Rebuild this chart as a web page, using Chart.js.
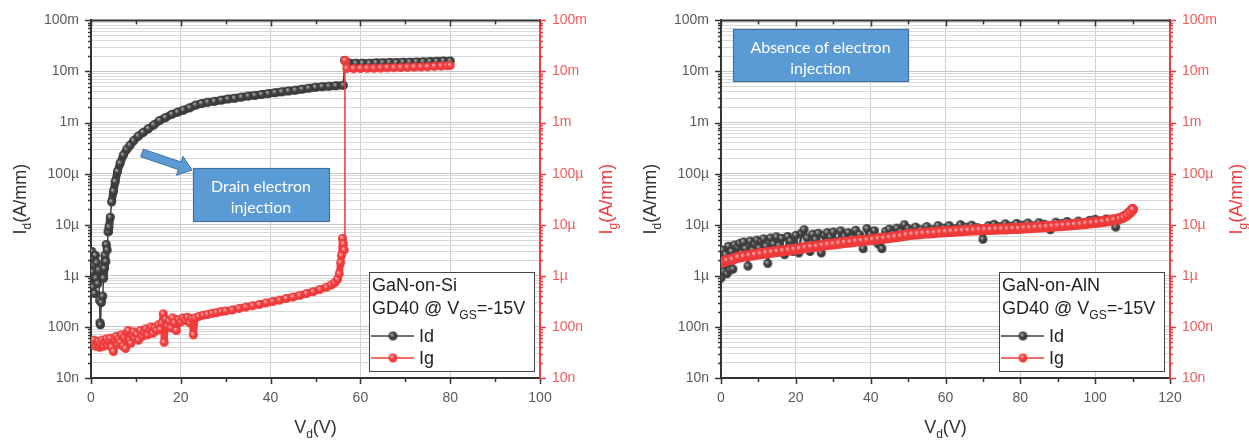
<!DOCTYPE html>
<html>
<head>
<meta charset="utf-8">
<script src="https://cdn.jsdelivr.net/npm/chart.js@4/dist/chart.umd.min.js"></script>
<style>
  body { margin: 0; background: #fff; width: 1249px; height: 440px; overflow: hidden; position: relative; }
  canvas { position: absolute; top: 0; }
  #c1 { left: 0; }
  #c2 { left: 625px; }
</style>
</head>
<body>
<canvas id="c1" width="625" height="440"></canvas>
<canvas id="c2" width="624" height="440"></canvas>
<script>
// log axis decades and their labels (A/mm)
const decades = [1e-8, 1e-7, 1e-6, 1e-5, 1e-4, 1e-3, 1e-2, 1e-1];
const decadeLabels = ['10n', '100n', '1µ', '10µ', '100µ', '1m', '10m', '100m'];

// GaN-on-Si : drain current
const siIdV = [0.2, 0.3, 0.4, 0.5, 0.7, 0.8, 1.0, 1.1, 1.3, 1.5, 1.7, 1.9, 2.0, 2.1, 2.3, 2.6, 2.8, 3.0, 3.1, 3.3,
  3.4, 3.6, 3.8, 4.0, 4.3, 4.6, 5.0, 5.4, 5.9, 6.5, 7.2, 8.0, 8.7, 9.5, 10.5, 11.6, 12.8, 14.0, 15.3, 16.6,
  18.0, 19.3, 20.6, 22.0, 23.3, 24.6, 26.0, 27.5, 29.0, 30.5, 32.0, 33.5, 35.0, 36.5, 38.0, 39.5, 41.0, 42.5, 44.0, 45.5,
  47.0, 48.5, 50.0, 51.5, 53.0, 54.5, 56.2, 56.5, 57.5, 59.0, 60.5, 62.0, 63.5, 65.0, 66.5, 68.0, 69.5, 71.0, 72.5, 74.0,
  75.5, 77.0, 78.5, 80.0];
const siId = [3.0e-6, 1.2e-6, 0.6e-6, 2.2e-6, 1.6e-6, 0.45e-6, 2.5e-6, 0.9e-6, 1.8e-6, 0.7e-6, 1.3e-6, 0.33e-6, 0.12e-6, 0.11e-6, 0.3e-6, 0.4e-6, 0.9e-6, 1.4e-6, 2.5e-6, 1.9e-6,
  4.1e-6, 3.2e-6, 7.3e-6, 9e-6, 14e-6, 28e-6, 45e-6, 70e-6, 110e-6, 160e-6, 230e-6, 300e-6, 360e-6, 440e-6, 540e-6, 640e-6, 760e-6, 900e-6, 1.1e-3, 1.25e-3,
  1.45e-3, 1.6e-3, 1.75e-3, 1.95e-3, 2.2e-3, 2.35e-3, 2.5e-3, 2.6e-3, 2.75e-3, 2.9e-3, 3.0e-3, 3.15e-3, 3.3e-3, 3.4e-3, 3.55e-3, 3.7e-3, 3.85e-3, 4.0e-3, 4.15e-3, 4.3e-3,
  4.5e-3, 4.7e-3, 4.9e-3, 5.05e-3, 5.15e-3, 5.25e-3, 5.35e-3, 16.5e-3, 14.5e-3, 14.5e-3, 14.5e-3, 14.5e-3, 14.8e-3, 14.8e-3, 15.0e-3, 15.0e-3, 15.2e-3, 15.2e-3, 15.4e-3, 15.5e-3,
  15.6e-3, 15.8e-3, 16.0e-3, 16.0e-3];

// GaN-on-Si : gate current
const siIgV = [0.1, 0.4, 0.7, 1.0, 1.3, 1.6, 1.9, 2.2, 2.5, 2.8, 3.1, 3.4, 3.7, 4.0, 4.3, 4.6, 5.0, 5.3, 5.6, 5.9,
  6.2, 6.5, 6.8, 7.1, 7.4, 7.7, 8.0, 8.3, 8.6, 8.9, 9.2, 9.5, 9.8, 10.2, 10.6, 11.0, 11.4, 11.8, 12.2, 12.6,
  13.0, 13.4, 13.8, 14.2, 14.6, 15.0, 15.4, 15.8, 16.1, 16.3, 16.6, 17.0, 17.4, 17.8, 18.2, 18.6, 19.0, 19.5, 20.0, 20.5,
  21.0, 21.5, 22.0, 22.5, 22.8, 23.2, 24.0, 25.0, 26.0, 27.0, 28.0, 29.0, 30.0, 31.5, 33.0, 34.5, 36.0, 37.5, 39.0, 40.5,
  42.0, 43.5, 45.0, 46.5, 48.0, 49.5, 51.0, 52.5, 53.5, 54.3, 54.9, 55.3, 55.6, 55.8, 56.0, 56.2, 56.4, 56.55, 57.0, 58.5,
  60.0, 61.5, 63.0, 64.5, 66.0, 67.5, 69.0, 70.5, 72.0, 73.5, 75.0, 76.5, 78.0, 79.3, 80.0];
const siIg = [50e-9, 45e-9, 55e-9, 42e-9, 48e-9, 52e-9, 40e-9, 46e-9, 55e-9, 42e-9, 50e-9, 58e-9, 44e-9, 52e-9, 60e-9, 40e-9, 33e-9, 55e-9, 65e-9, 45e-9,
  58e-9, 50e-9, 70e-9, 42e-9, 62e-9, 38e-9, 75e-9, 85e-9, 55e-9, 48e-9, 68e-9, 80e-9, 60e-9, 72e-9, 55e-9, 85e-9, 65e-9, 78e-9, 92e-9, 70e-9,
  88e-9, 100e-9, 75e-9, 95e-9, 85e-9, 110e-9, 90e-9, 120e-9, 180e-9, 50e-9, 140e-9, 105e-9, 130e-9, 95e-9, 150e-9, 120e-9, 85e-9, 140e-9, 125e-9, 150e-9,
  135e-9, 155e-9, 120e-9, 145e-9, 70e-9, 150e-9, 160e-9, 170e-9, 175e-9, 185e-9, 190e-9, 200e-9, 205e-9, 215e-9, 230e-9, 245e-9, 260e-9, 275e-9, 295e-9, 315e-9,
  335e-9, 360e-9, 385e-9, 415e-9, 450e-9, 490e-9, 540e-9, 600e-9, 660e-9, 730e-9, 850e-9, 1.1e-6, 1.8e-6, 2.5e-6, 5.4e-6, 4.2e-6, 3.2e-6, 16.5e-3, 11.5e-3, 11.4e-3,
  11.5e-3, 11.6e-3, 11.6e-3, 11.7e-3, 11.8e-3, 11.9e-3, 12.0e-3, 12.1e-3, 12.2e-3, 12.3e-3, 12.4e-3, 12.6e-3, 12.8e-3, 13.0e-3, 13.2e-3];

// GaN-on-AlN : drain current (µA/mm)
const alnIdV = [0, 0.4, 0.8, 1.2, 1.6, 2.0, 2.4, 2.8, 3.2, 3.6, 4.0, 4.5, 5.0, 5.5, 6.0, 6.5, 7.2, 7.8, 8.5, 9.0,
  9.6, 10.2, 10.8, 11.4, 12.0, 12.5, 13.2, 14.0, 14.8, 15.5, 16.2, 17.0, 17.8, 18.5, 19.2, 20.0, 20.8, 21.5, 22.2, 23.0,
  23.8, 24.5, 25.3, 26.0, 26.8, 27.6, 28.4, 29.2, 30.0, 31.0, 32.0, 33.0, 34.0, 35.0, 36.0, 37.0, 38.0, 39.0, 40.0, 41.0,
  42.0, 43.0, 44.0, 45.0, 46.0, 47.0, 48.0, 49.0, 50.0, 51.0, 52.0, 53.5, 55.0, 56.5, 58.0, 59.5, 61.0, 62.5, 64.0, 65.5,
  67.0, 68.5, 70.0, 71.5, 73.0, 74.5, 76.0, 77.5, 79.0, 80.5, 82.0, 83.5, 85.0, 86.5, 88.0, 89.5, 91.0, 92.5, 94.0, 95.5,
  97.0, 98.5, 100.0, 101.5, 103.0, 104.5, 105.5, 106.5, 107.5, 108.5, 109.3, 110.0];
const alnIdUA = [0.9, 3.2, 1.2, 2.6, 1.1, 3.8, 1.3, 3.0, 1.35, 4.0, 2.4, 3.6, 4.3, 2.8, 4.6, 3.4, 1.55, 4.8, 3.2, 4.2,
  5.0, 3.5, 4.7, 5.3, 3.8, 1.75, 5.5, 4.2, 5.8, 3.9, 5.4, 2.6, 5.9, 4.8, 3.0, 6.2, 2.8, 6.8, 8.0, 5.5,
  3.0, 6.5, 5.2, 6.8, 2.8, 6.2, 7.0, 5.8, 7.2, 4.6, 7.6, 6.0, 7.0, 5.5, 7.8, 6.4, 3.4, 8.4, 6.5, 7.6,
  4.2, 3.4, 7.4, 8.2, 6.6, 8.6, 7.2, 10.0, 8.4, 7.6, 9.0, 8.0, 9.2, 8.0, 9.6, 8.6, 9.6, 8.4, 10.0, 9.0,
  9.8, 8.8, 5.2, 9.6, 10.2, 9.2, 10.4, 9.4, 10.6, 9.8, 10.8, 9.6, 11.0, 10.2, 8.0, 11.2, 10.6, 11.6, 10.4, 11.8,
  11.0, 12.2, 12.8, 11.8, 13.0, 12.4, 9.0, 13.5, 14.5, 16.0, 18.0, 19.5];

// GaN-on-AlN : gate current (µA/mm)
const alnIgV = [0, 1.5, 3, 4.5, 6, 7.5, 9, 10.5, 12, 13.5, 15, 16.5, 18, 19.5, 21, 22.5, 24, 25.5, 27, 28.5,
  30, 31.5, 33, 34.5, 36, 37.5, 39, 40.5, 42, 43.5, 45, 46.5, 48, 49.5, 51, 52.5, 54, 55.5, 57, 58.5,
  60, 61.5, 63, 64.5, 66, 67.5, 69, 70.5, 72, 73.5, 75, 76.5, 78, 79.5, 81, 82.5, 84, 85.5, 87, 88.5,
  90, 91.5, 93, 94.5, 96, 97.5, 99, 100.5, 102, 103.5, 105, 106.5, 107.5, 108.5, 109.3, 110];
const alnIgUA = [1.8, 2.0, 2.1, 2.3, 2.4, 2.5, 2.6, 2.7, 2.8, 2.9, 3.0, 3.1, 3.2, 3.3, 3.4, 3.6, 3.7, 3.8, 3.95, 4.1,
  4.2, 4.35, 4.5, 4.6, 4.75, 4.9, 5.0, 5.15, 5.3, 5.45, 5.6, 5.8, 6.0, 6.3, 6.5, 6.6, 6.8, 6.9, 7.0, 7.2,
  7.3, 7.4, 7.55, 7.65, 7.8, 7.9, 8.0, 8.05, 8.1, 8.2, 8.25, 8.3, 8.4, 8.45, 8.6, 8.7, 8.9, 9.0, 9.2, 9.35,
  9.5, 9.7, 9.9, 10.1, 10.3, 10.6, 10.9, 11.2, 11.6, 12.0, 12.5, 13.2, 14.0, 15.5, 17.5, 20.0];

const FONT = '"Liberation Sans", Arial, sans-serif';
const DARK = '#404040';
const RED = '#ef3b3b';

// all log ticks 1..9 per decade, majors on decades
const logTicks = [];
for (let i = 0; i < decades.length - 1; i++) {
  for (let m = 1; m <= 9; m++) logTicks.push({ value: m * decades[i], major: m === 1 });
}
logTicks.push({ value: decades[decades.length - 1], major: true });

function decadeLabel(v) {
  const e = Math.log10(v);
  if (Math.abs(e - Math.round(e)) > 1e-6) return '';
  const i = decades.findIndex(d => Math.abs(Math.log10(d) - e) < 1e-6);
  return i < 0 ? '' : decadeLabels[i];
}

function series(xs, ys, k) {
  return xs.map((v, i) => ({ x: v, y: ys[i] * (k || 1) }));
}

// shaded ball like the Origin markers
function ball(r, base, hi) {
  const c = document.createElement('canvas');
  const s = Math.ceil(2 * r + 2);
  c.width = c.height = s;
  const g = c.getContext('2d');
  const grd = g.createRadialGradient(s / 2 - r * 0.3, s / 2 - r * 0.35, r * 0.1, s / 2, s / 2, r);
  grd.addColorStop(0, hi);
  grd.addColorStop(0.5, base);
  grd.addColorStop(1, base);
  g.fillStyle = grd;
  g.beginPath();
  g.arc(s / 2, s / 2, r, 0, Math.PI * 2);
  g.fill();
  return c;
}
const darkBall = ball(4.5, '#3c3c3c', '#a8a8a8');
const redBall = ball(4.5, '#ee3a3a', '#ffaaaa');

function segWidth(w, lim) {
  return ctx => Math.abs(Math.log10(ctx.p1.parsed.y / ctx.p0.parsed.y)) > lim ? 1.5 : w;
}

function line(c, x1, y1, x2, y2) {
  c.beginPath(); c.moveTo(x1, y1); c.lineTo(x2, y2); c.stroke();
}

function richWidth(c, parts, size) {
  let w = 0;
  parts.forEach(p => {
    c.font = (p.sub ? Math.round(size * 0.68) : size) + 'px ' + FONT;
    w += c.measureText(p.t).width;
  });
  return w;
}
function drawRich(c, parts, x, y, size, color, center) {
  let cx = center ? x - richWidth(c, parts, size) / 2 : x;
  c.fillStyle = color;
  c.textAlign = 'left';
  c.textBaseline = 'alphabetic';
  parts.forEach(p => {
    c.font = (p.sub ? Math.round(size * 0.68) : size) + 'px ' + FONT;
    c.fillText(p.t, cx, y + (p.sub ? size * 0.3 : 0));
    cx += c.measureText(p.t).width;
  });
}

function blockArrow(c, x1, y1, x2, y2, bw, hl, hw) {
  const dx = x2 - x1, dy = y2 - y1, L = Math.hypot(dx, dy);
  const ux = dx / L, uy = dy / L, nx = -uy, ny = ux;
  const bx = x2 - ux * hl, by = y2 - uy * hl;
  c.beginPath();
  c.moveTo(x1 + nx * bw, y1 + ny * bw);
  c.lineTo(bx + nx * bw, by + ny * bw);
  c.lineTo(bx + nx * hw, by + ny * hw);
  c.lineTo(x2, y2);
  c.lineTo(bx - nx * hw, by - ny * hw);
  c.lineTo(bx - nx * bw, by - ny * bw);
  c.lineTo(x1 - nx * bw, y1 - ny * bw);
  c.closePath();
  c.fill();
  c.stroke();
}

// frame, ticks, axis titles, legend box and the blue notes
const decor = {
  id: 'decor',
  afterDraw(chart, args, o) {
    const c = chart.ctx, a = chart.chartArea, sx = chart.scales.x, sy = chart.scales.y;
    c.save();
    c.strokeStyle = '#333';
    c.lineWidth = 2;
    line(c, a.left - 1, a.top, a.right, a.top);

    c.lineWidth = 1.5;
    sx.ticks.forEach(t => {
      const px = Math.round(sx.getPixelForValue(t.value)) + 0.5;
      const len = t.value % 20 === 0 ? 6 : 4;
      line(c, px, a.bottom, px, a.bottom + len);
      line(c, px, a.top, px, a.top + len);
    });
    sy.ticks.forEach(t => {
      const py = Math.round(sy.getPixelForValue(t.value)) + 0.5;
      const len = t.major ? 6 : 3;
      c.strokeStyle = '#333';
      line(c, a.left - len, py, a.left, py);
      c.strokeStyle = RED;
      line(c, a.right, py, a.right + len, py);
    });

    // axis titles
    const cy = (a.top + a.bottom) / 2;
    c.save();
    c.translate(a.left - 65, cy);
    c.rotate(-Math.PI / 2);
    drawRich(c, [{ t: 'I' }, { t: 'd', sub: true }, { t: '(A/mm)' }], 0, 0, 18, '#333', true);
    c.restore();
    c.save();
    c.translate(a.right + 72, cy);
    c.rotate(-Math.PI / 2);
    drawRich(c, [{ t: 'I' }, { t: 'g', sub: true }, { t: '(A/mm)' }], 0, 0, 18, RED, true);
    c.restore();
    drawRich(c, [{ t: 'V' }, { t: 'd', sub: true }, { t: '(V)' }], (a.left + a.right) / 2, 433, 18, '#333', true);

    // legend
    const bw = 165, bh = 99, L = a.right - 6 - bw, T = a.bottom - 7 - bh;
    c.fillStyle = '#fff';
    c.fillRect(L, T, bw, bh);
    c.strokeStyle = '#444';
    c.lineWidth = 1;
    c.strokeRect(L + 0.5, T + 0.5, bw, bh);
    drawRich(c, [{ t: o.title }], L + 3, T + 19, 18, '#222');
    drawRich(c, [{ t: 'GD40 @ V' }, { t: 'GS', sub: true }, { t: '=-15V' }], L + 3, T + 42, 18, '#222');
    [[DARK, darkBall, 'Id', 64], [RED, redBall, 'Ig', 86]].forEach(([col, img, txt, dy]) => {
      c.strokeStyle = col;
      c.lineWidth = 1.5;
      line(c, L + 2, T + dy, L + 45, T + dy);
      c.drawImage(img, L + 24 - img.width / 2, T + dy - img.height / 2);
      drawRich(c, [{ t: txt }], L + 50, T + dy + 6, 18, '#222');
    });

    // blue arrow
    if (o.arrow) {
      c.fillStyle = '#5b9bd5';
      c.strokeStyle = '#41719c';
      c.lineWidth = 1;
      blockArrow(c, o.arrow[0], o.arrow[1], o.arrow[2], o.arrow[3], 4, 13, 10);
    }
    // blue note box
    const n = o.note;
    c.fillStyle = '#5b9bd5';
    c.fillRect(n.x, n.y, n.w, n.h);
    c.strokeStyle = '#41719c';
    c.lineWidth = 1.2;
    c.strokeRect(n.x + 0.5, n.y + 0.5, n.w, n.h);
    c.fillStyle = '#fff';
    c.font = '16px Lato, "Open Sans", sans-serif';
    c.textAlign = 'center';
    c.textBaseline = 'alphabetic';
    n.lines.forEach((s, i) => c.fillText(s, n.x + n.w / 2, n.y + 24 + i * 21));
    c.restore();
  }
};

function makeChart(id, cfg) {
  const logAxis = (pos, w, color) => ({
    type: 'logarithmic',
    position: pos,
    min: decades[0],
    max: decades[decades.length - 1],
    afterBuildTicks: s => { s.ticks = logTicks.map(t => ({ ...t })); },
    afterFit: s => { s.width = w; },
    border: { display: true, color: color, width: 2 },
    grid: {
      drawTicks: false,
      drawOnChartArea: pos === 'left',
      color: ctx => ctx.tick && ctx.tick.major ? '#c6c6c6' : '#d9d9d9',
      lineWidth: 1
    },
    ticks: {
      autoSkip: false,
      padding: 12,
      color: pos === 'left' ? '#595959' : '#f25a5a',
      font: { family: FONT, size: 14 },
      callback: v => decadeLabel(v)
    }
  });

  return new Chart(document.getElementById(id), {
    type: 'scatter',
    data: {
      datasets: [
        {
          label: 'Id',
          data: cfg.id,
          yAxisID: 'y',
          order: 2,
          showLine: true,
          borderColor: DARK,
          borderWidth: cfg.idWidth,
          borderCapStyle: 'round',
          borderJoinStyle: 'round',
          pointStyle: darkBall,
          pointRadius: 4.5,
          segment: { borderWidth: segWidth(cfg.idWidth, cfg.idJump) }
        },
        {
          label: 'Ig',
          data: cfg.ig,
          yAxisID: 'y2',
          order: 1,
          showLine: true,
          borderColor: RED,
          borderWidth: cfg.igWidth,
          borderCapStyle: 'round',
          borderJoinStyle: 'round',
          pointStyle: redBall,
          pointRadius: 4.5,
          segment: { borderWidth: segWidth(cfg.igWidth, 0.6) }
        }
      ]
    },
    options: {
      responsive: false,
      animation: false,
      devicePixelRatio: 1,
      layout: { padding: { top: 16, left: 0, right: 0, bottom: 0 } },
      plugins: {
        legend: { display: false },
        tooltip: { enabled: false },
        decor: cfg.decor
      },
      scales: {
        x: {
          type: 'linear',
          min: 0,
          max: cfg.xMax,
          afterFit: s => { s.height = 62; },
          border: { display: true, color: '#333', width: 2 },
          grid: {
            drawTicks: false,
            color: ctx => ctx.tick && ctx.tick.value % 20 === 0 ? '#d0d0d0' : 'rgba(0,0,0,0)'
          },
          ticks: {
            stepSize: 10,
            padding: 12,
            color: '#595959',
            font: { family: FONT, size: 14 },
            callback: v => (v % 20 === 0 ? String(v) : '')
          }
        },
        y: logAxis('left', cfg.yl, '#333'),
        y2: logAxis('right', cfg.yr, RED)
      }
    },
    plugins: [decor]
  });
}

makeChart('c1', {
  xMax: 100, yl: 91, yr: 85,
  id: series(siIdV, siId), ig: series(siIgV, siIg),
  idWidth: 8, idJump: 0.3, igWidth: 7,
  decor: {
    title: 'GaN-on-Si',
    arrow: [142, 153, 192, 170],
    note: { x: 193, y: 168, w: 136, h: 53, lines: ['Drain electron', 'injection'] }
  }
});

makeChart('c2', {
  xMax: 120, yl: 96, yr: 79,
  id: series(alnIdV, alnIdUA, 1e-6), ig: series(alnIgV, alnIgUA, 1e-6),
  idWidth: 2.5, idJump: 5, igWidth: 11,
  decor: {
    title: 'GaN-on-AlN',
    note: { x: 108, y: 29, w: 175, h: 52, lines: ['Absence of electron', 'injection'] }
  }
});
</script>
</body>
</html>
